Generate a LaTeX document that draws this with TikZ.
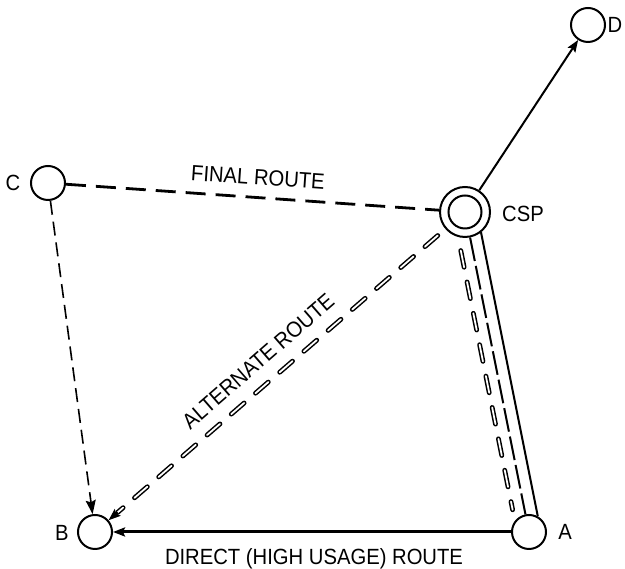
\documentclass[tikz,border=0pt]{standalone}
\usepackage{fontspec}
\setmainfont{Liberation Sans}[FakeStretch=0.92]
\usetikzlibrary{arrows.meta,calc}
\tikzset{
  stn/.style={circle, draw, line width=2pt, minimum size=34pt, inner sep=0pt, outer sep=1pt},
  hub/.style={circle, draw, line width=2pt, minimum size=50pt, inner sep=0pt, outer sep=1pt},
  lbl/.style={font=\fontsize{22pt}{26pt}\selectfont, inner sep=0pt, text height=15.8pt, text depth=0pt},
  arr/.style={-{Stealth[length=12pt,width=9pt,inset=2pt]}},
  bigarr/.style={-{Stealth[length=14pt,width=10pt,inset=2pt]}},
  finalroute/.style={line width=2.8pt, dash pattern=on 20pt off 10pt},
  thindash/.style={line width=1.6pt, dash pattern=on 14pt off 7pt},
  hollow/.style={double, double distance=1.8pt, line width=1.5pt, line cap=round, dash pattern=on 17pt off 15pt},
  longdash/.style={line width=2pt, dash pattern=on 24pt off 5pt},
  solidline/.style={line width=2pt},
  heavyline/.style={line width=3pt},
}
\begin{document}
\begin{tikzpicture}[x=1pt,y=1pt]
\useasboundingbox (0,0) rectangle (625,569);
% stations
\node[stn] (d) at (588,544) {};
\node[stn] (c) at (48,386) {};
\node[hub] (csp) at (465,357) {};
\draw[line width=2pt] (csp.center) circle (16.5);
\node[stn] (b) at (95,37) {};
\node[stn] (a) at (529,37) {};
% station labels
\node[lbl] (ld) at (615,544) {D};
\node[lbl] (lc) at (13,386) {C};
\node[lbl] (lcsp) at (523,355) {CSP};
\node[lbl] (lb) at (62,36) {B};
\node[lbl] (la) at (565,37) {A};
% routes
\draw[finalroute] (c) -- (csp);
\draw[thindash, bigarr] (c) -- (b);
\draw[heavyline, arr] (a) -- (b);
\draw[solidline, arr] (csp) -- (d);
\draw[longdash] (csp) -- (a);
\draw[solidline] ($ ($(csp)!23pt!(a)$)!11.7pt!90:(a) $) -- ($ ($(a)!13.7pt!(csp)$)!11.7pt!-90:(csp) $);
\draw[hollow] ($ ($(csp)!37pt!(a)$)!11.7pt!-90:(a) $) -- ($ ($(a)!25pt!(csp)$)!11.7pt!90:(csp) $);
\draw[hollow] ($(csp)!36pt!(b)$) -- ($(b)!30pt!(csp)$);
\draw[line width=1.5pt, arr] ($(b)!30pt!(csp)$) -- (b);
% route labels
\node[lbl, rotate=-4] (lfinal) at (258,392) {FINAL ROUTE};
\node[lbl, rotate=41] (lalt) at (258,208) {ALTERNATE ROUTE};
\node[lbl] (ldirect) at (314,12) {DIRECT (HIGH USAGE) ROUTE};
\end{tikzpicture}
\end{document}
